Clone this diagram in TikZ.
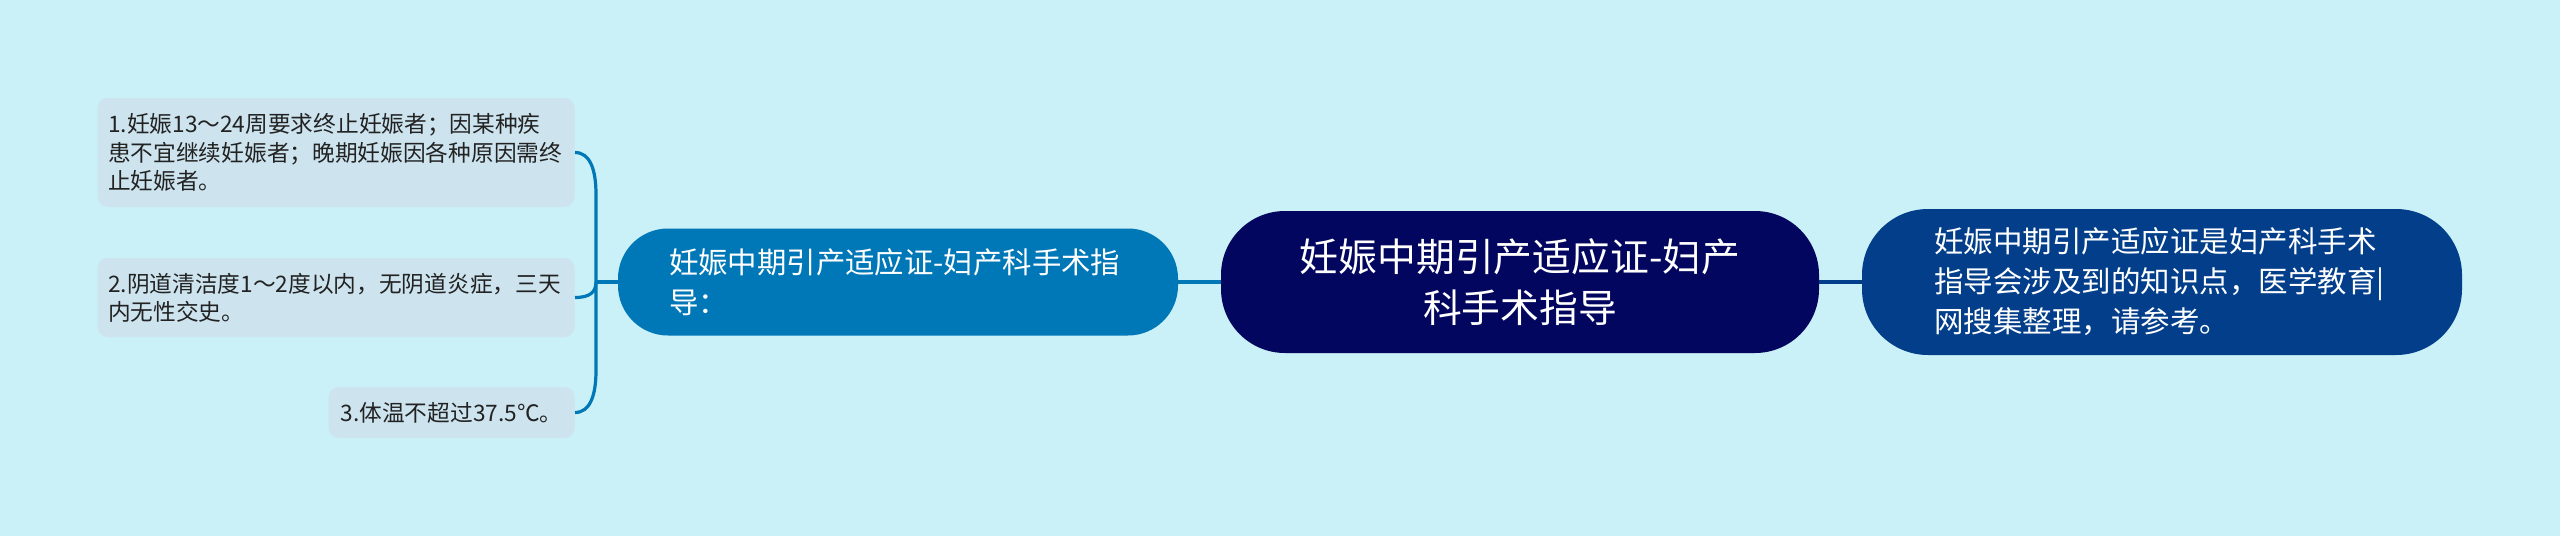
\documentclass[tikz,border=0pt]{standalone}
\usepackage{fontspec}
\setmainfont{Noto Sans CJK SC}

\definecolor{bgcyan}{RGB}{202,240,248}
\definecolor{leaffill}{RGB}{205,228,239}
\definecolor{leaftext}{RGB}{34,34,34}
\definecolor{subblue}{RGB}{0,119,182}
\definecolor{topicnavy}{RGB}{3,6,94}
\definecolor{noteblue}{RGB}{2,62,138}

\begin{document}
\begin{tikzpicture}[x=0.5pt, y=-0.5pt,
    topicbox/.style={fill=topicnavy, text=white, rounded corners=32pt, inner sep=0pt,
        minimum width=299pt, minimum height=71pt, align=center,
        font=\fontsize{19.4pt}{25.5pt}\selectfont},
    subbox/.style={fill=subblue, text=white, rounded corners=25pt, inner sep=0pt,
        minimum width=280pt, minimum height=53.5pt, text width=229pt, align=left,
        font=\fontsize{14.7pt}{20pt}\selectfont},
    notebox/.style={fill=noteblue, text=white, rounded corners=33pt, inner sep=0pt,
        minimum width=300pt, minimum height=73pt, text width=228pt, align=left,
        font=\fontsize{14.75pt}{20pt}\selectfont},
    leafbox/.style={fill=leaffill, text=leaftext, rounded corners=5pt, inner sep=0pt,
        anchor=east, font=\fontsize{11.35pt}{14.15pt}\selectfont},
    link/.style={line width=1.6pt, subblue},
    notelink/.style={line width=1.6pt, noteblue},
  ]
    % Background
    \fill[bgcyan] (0,0) rectangle (2560,536);
    \useasboundingbox (0,0) rectangle (2560,536);

    % Main nodes
    \node[topicbox] (topic) at (1520,282) {妊娠中期引产适应证-妇产\\科手术指导};
    \node[subbox] (sub) at (898,282) {妊娠中期引产适应证-妇产科手术指\\导：};
    \node[notebox] (note) at (2162,282) {妊娠中期引产适应证是妇产科手术\\指导会涉及到的知识点，医学教育|\\网搜集整理，请参考。};

    % Leaves
    \node[leafbox, minimum width=238.5pt, minimum height=54.5pt, text width=228pt, align=left]
        (leafA) at (575,152.5) {1.妊娠13～24周要求终止妊娠者；因某种疾\\患不宜继续妊娠者；晚期妊娠因各种原因需终\\止妊娠者。};
    \node[leafbox, minimum width=238.5pt, minimum height=39.5pt, text width=228pt, align=left]
        (leafB) at (575,297.5) {2.阴道清洁度1～2度以内，无阴道炎症，三天\\内无性交史。};
    \node[leafbox, minimum width=123pt, minimum height=25.5pt, align=center]
        (leafC) at (575,412.5) {3.体温不超过37.5℃。};

    % Junction of the bracket
    \coordinate (jn) at (596,282);

    % Connectors
    \draw[link] (sub.east) -- (topic.west);
    \draw[notelink] (topic.east) -- (note.west);
    \draw[link] (sub.west) -- (jn);
    \draw[link] (leafA.east) .. controls +(15,0) and +(0,-25) .. ++(21,42) -- (jn);
    \draw[link] (leafB.east) .. controls +(15,0) and +(0,10) .. (jn);
    \draw[link] (leafC.east) .. controls +(15,0) and +(0,25) .. ++(21,-42) -- (jn);
\end{tikzpicture}
\end{document}
